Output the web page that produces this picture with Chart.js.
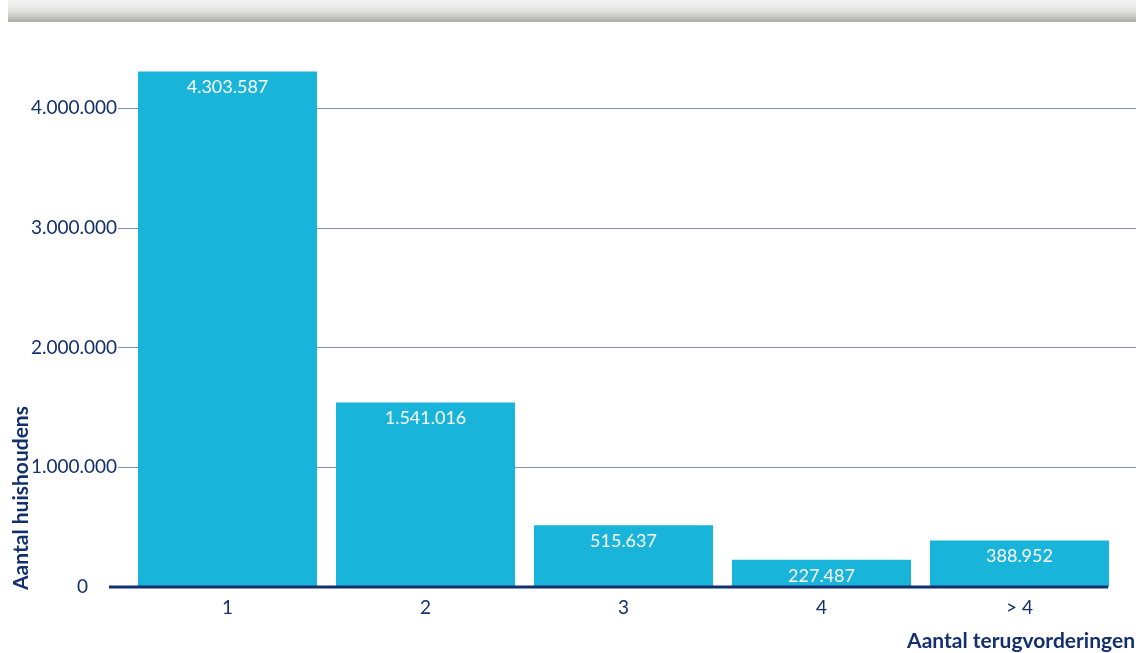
<!DOCTYPE html>
<html>
<head>
<meta charset="utf-8">
<script src="https://cdn.jsdelivr.net/npm/chart.js@4/dist/chart.umd.min.js"></script>
<style>
  html, body { margin: 0; padding: 0; background: #fff; }
  #wrap { position: relative; width: 1136px; height: 653px; }
</style>
</head>
<body>
<div id="wrap"><canvas id="chart" width="1136" height="653"></canvas></div>
<script>
// Gegevens
const categories = ['1', '2', '3', '4', '> 4'];
const households = [4303587, 1541016, 515637, 227487, 388952];
const yTicks = [0, 1000000, 2000000, 3000000, 4000000];

const navy = '#13306e';
const barColor = '#19b4d9';

function formatNL(v) {
    return v.toString().replace(/\B(?=(\d{3})+(?!\d))/g, '.');
}

// Grijze balk, rasterlijnen, basislijn en labels
const decorPlugin = {
    id: 'decor',
    beforeDraw(chart) {
        const ctx = chart.ctx;
        const g = ctx.createLinearGradient(0, 0, 0, 22);
        g.addColorStop(0, '#f4f4f2');
        g.addColorStop(0.5, '#e2e2df');
        g.addColorStop(1, '#acaca7');
        ctx.save();
        ctx.fillStyle = g;
        ctx.fillRect(8, 0, chart.width - 8, 22);
        ctx.restore();
    },
    beforeDatasetsDraw(chart) {
        const ctx = chart.ctx;
        const y = chart.scales.y;
        ctx.save();
        ctx.strokeStyle = '#8592b6';
        ctx.lineWidth = 1;
        yTicks.forEach(v => {
            if (v === 0) return;
            const py = Math.round(y.getPixelForValue(v)) + 0.5;
            ctx.beginPath();
            ctx.moveTo(118, py);
            ctx.lineTo(chart.width, py);
            ctx.stroke();
        });
        ctx.restore();
    },
    afterDatasetsDraw(chart) {
        const ctx = chart.ctx;
        const y0 = chart.scales.y.getPixelForValue(0);
        ctx.save();
        // basislijn
        ctx.strokeStyle = navy;
        ctx.lineWidth = 3;
        ctx.beginPath();
        ctx.moveTo(109, y0);
        ctx.lineTo(1108, y0);
        ctx.stroke();

        // nul-label links van de basislijn
        ctx.fillStyle = navy;
        ctx.font = '19px Lato, sans-serif';
        ctx.textAlign = 'right';
        ctx.textBaseline = 'middle';
        ctx.fillText('0', 88, y0);

        // waardelabels
        ctx.fillStyle = '#ffffff';
        ctx.font = '18px Lato, sans-serif';
        ctx.textAlign = 'center';
        chart.getDatasetMeta(0).data.forEach((bar, i) => {
            ctx.fillText(formatNL(households[i]), bar.x, bar.y + 16);
        });

        // astitels
        ctx.fillStyle = navy;
        ctx.font = 'bold 21px Lato, sans-serif';
        ctx.textAlign = 'right';
        ctx.textBaseline = 'alphabetic';
        ctx.fillText('Aantal terugvorderingen', 1135, 648);

        ctx.translate(28, 590);
        ctx.rotate(-Math.PI / 2);
        ctx.textAlign = 'left';
        ctx.fillText('Aantal huishoudens', 0, 0);
        ctx.restore();
    }
};

new Chart(document.getElementById('chart'), {
    type: 'bar',
    data: {
        labels: categories,
        datasets: [{
            data: households,
            backgroundColor: barColor,
            borderWidth: 0,
            barPercentage: 0.904,
            categoryPercentage: 1
        }]
    },
    options: {
        responsive: false,
        animation: false,
        layout: { padding: { top: 48, right: 17.5, left: 0, bottom: 0 } },
        plugins: { legend: { display: false }, tooltip: { enabled: false } },
        scales: {
            x: {
                grid: { display: false, drawTicks: false },
                border: { display: false },
                ticks: {
                    color: navy,
                    font: { family: 'Lato, sans-serif', size: 19 },
                    padding: 9
                },
                afterFit(scale) { scale.height = 66; }
            },
            y: {
                min: 0,
                max: 4500000,
                grid: { display: false, drawTicks: false },
                border: { display: false },
                afterBuildTicks(scale) {
                    scale.ticks = yTicks.map(v => ({ value: v }));
                },
                ticks: {
                    color: navy,
                    font: { family: 'Lato, sans-serif', size: 19 },
                    padding: 11.5,
                    callback: v => (v === 0 ? '' : formatNL(v))
                },
                afterFit(scale) { scale.width = 128.5; }
            }
        }
    },
    plugins: [decorPlugin]
});
</script>
</body>
</html>
